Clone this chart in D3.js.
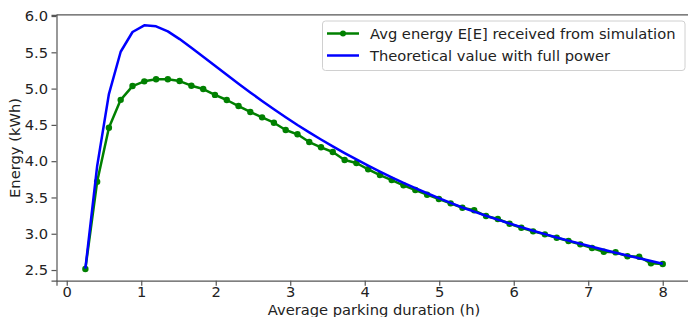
<!DOCTYPE html>
<html><head><meta charset="utf-8">
<script src="https://cdn.jsdelivr.net/npm/d3@7"></script>
<style>html,body{margin:0;padding:0;background:#fff;overflow:hidden}</style>
</head><body>
<svg id="chart" width="688" height="317"></svg>
<script>
const durations = [0.25,0.408,0.566,0.724,0.883,1.041,1.199,1.357,1.515,1.673,1.832,1.990,2.148,2.306,2.464,2.622,2.781,2.939,3.097,3.255,3.413,3.571,3.730,3.888,4.046,4.204,4.362,4.520,4.679,4.837,4.995,5.153,5.311,5.469,5.628,5.786,5.944,6.102,6.260,6.418,6.577,6.735,6.893,7.051,7.209,7.367,7.526,7.684,7.842,8.0];
const simulated = [2.515,3.717,4.461,4.845,5.035,5.100,5.128,5.128,5.104,5.040,4.994,4.913,4.843,4.760,4.678,4.604,4.530,4.429,4.370,4.264,4.191,4.126,4.016,3.975,3.888,3.809,3.740,3.667,3.602,3.538,3.478,3.419,3.358,3.323,3.244,3.203,3.138,3.083,3.033,2.992,2.945,2.900,2.854,2.803,2.752,2.744,2.689,2.683,2.592,2.583];
const theoretical = [2.52,3.93,4.925,5.508,5.78,5.872,5.858,5.789,5.682,5.563,5.440,5.315,5.190,5.067,4.947,4.830,4.716,4.605,4.498,4.397,4.299,4.204,4.112,4.024,3.938,3.856,3.777,3.701,3.628,3.558,3.490,3.425,3.362,3.304,3.248,3.194,3.142,3.091,3.042,2.995,2.949,2.905,2.862,2.820,2.779,2.739,2.700,2.662,2.624,2.587];
const xTicks = [0,1,2,3,4,5,6,7,8];
const yTicks = [2.5,3.0,3.5,4.0,4.5,5.0,5.5,6.0];
const seriesNames = ["Avg energy E[E] received from simulation","Theoretical value with full power"];
const seriesColors = ["#008000","#0000ff"];

const svg = d3.select("#chart");
const font = "DejaVu Sans, sans-serif";
const fs = 14.7;
const x = d3.scaleLinear().domain([-0.1375, 8.3875]).range([56.5, 691.6]);
const y = d3.scaleLinear().domain([2.353, 6.017]).range([280.7, 14.8]);

const line = d3.line().x((d,i)=>x(durations[i])).y(d=>y(d));

// green series
svg.append("path").datum(simulated).attr("d", line)
  .attr("fill","none").attr("stroke",seriesColors[0]).attr("stroke-width",2.5).attr("stroke-linejoin","round");
svg.selectAll("circle.sim").data(simulated).enter().append("circle").attr("class","sim")
  .attr("cx",(d,i)=>x(durations[i])).attr("cy",d=>y(d)).attr("r",3.2).attr("fill",seriesColors[0]);
// blue series
svg.append("path").datum(theoretical).attr("d", line)
  .attr("fill","none").attr("stroke",seriesColors[1]).attr("stroke-width",2.5).attr("stroke-linejoin","round");

// axes
const xAxis = svg.append("g").attr("transform",`translate(0,${y.range()[0]})`)
  .call(d3.axisBottom(x).tickValues(xTicks).tickFormat(d3.format("d")).tickSizeOuter(0).tickSize(5).tickPadding(1));
const yAxis = svg.append("g").attr("transform",`translate(${x.range()[0]},0)`)
  .call(d3.axisLeft(y).tickValues(yTicks).tickFormat(d3.format(".1f")).tickSizeOuter(0).tickSize(5).tickPadding(3.5));
[xAxis,yAxis].forEach(g=>{
  g.select(".domain").attr("stroke","#555").attr("stroke-width",1.2);
  g.selectAll(".tick line").attr("stroke","#555").attr("stroke-width",1.2);
  g.selectAll(".tick text").attr("font-family",font).attr("font-size",fs).attr("fill","#222");
});
// top & right spines
svg.append("line").attr("x1",x.range()[0]).attr("x2",x.range()[1]).attr("y1",y.range()[1]).attr("y2",y.range()[1])
  .attr("stroke","#555").attr("stroke-width",1.2);
svg.append("line").attr("x1",x.range()[1]).attr("x2",x.range()[1]).attr("y1",y.range()[1]).attr("y2",y.range()[0])
  .attr("stroke","#555").attr("stroke-width",1.2);

// axis labels
svg.append("text").attr("x",374).attr("y",315).attr("text-anchor","middle")
  .attr("font-family",font).attr("font-size",fs).attr("fill","#222").text("Average parking duration (h)");
svg.append("text").attr("transform","translate(20,148) rotate(-90)").attr("text-anchor","middle")
  .attr("font-family",font).attr("font-size",fs).attr("fill","#222").text("Energy (kWh)");

// legend
const lg = svg.append("g");
lg.append("rect").attr("x",322.5).attr("y",21).attr("width",362.5).attr("height",49.5).attr("rx",3)
  .attr("fill","#fff").attr("fill-opacity",0.8).attr("stroke","#d0d0d0");
const rows = [33.5,55.5];
rows.forEach((ry,i)=>{
  lg.append("line").attr("x1",327).attr("x2",359).attr("y1",ry).attr("y2",ry)
    .attr("stroke",seriesColors[i]).attr("stroke-width",2.5);
  if(i===0) lg.append("circle").attr("cx",343).attr("cy",ry).attr("r",3).attr("fill",seriesColors[0]);
  lg.append("text").attr("x",370).attr("y",ry).attr("dy","0.35em")
    .attr("font-family",font).attr("font-size",fs).attr("fill","#222").text(seriesNames[i]);
});
</script>
</body></html>
